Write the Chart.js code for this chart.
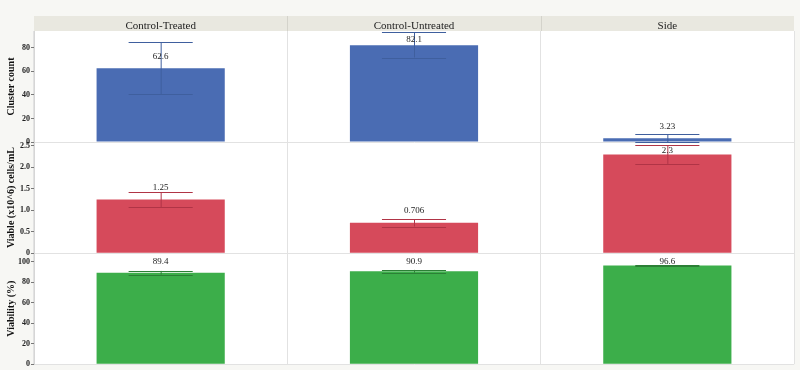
<!DOCTYPE html>
<html>
<head>
<meta charset="utf-8">
<script src="https://cdn.jsdelivr.net/npm/chart.js@4.4.1/dist/chart.umd.min.js"></script>
<style>
    html, body { margin: 0; padding: 0; background: #f7f7f4; }
    #wrap { width: 800px; height: 370px; }
</style>
</head>
<body>
<div id="wrap"><canvas id="trellisChart" width="800" height="370"></canvas></div>
<script>
const categories = ["Control-Treated", "Control-Untreated", "Side"];

const clusterCount = [62.6, 82.1, 3.23];
const clusterLow = [40.8, 71.8, 0];
const clusterHigh = [84.6, 93.3, 6.6];

const viableCells = [1.25, 0.706, 2.3];
const viableLow = [1.07, 0.62, 2.08];
const viableHigh = [1.42, 0.79, 2.52];

const viability = [89.4, 90.9, 96.6];
const viabilityLow = [87.6, 89.6, 96.3];
const viabilityHigh = [91.2, 92.2, 96.9];

const serif = "'Liberation Serif', 'Times New Roman', serif";
var chart;

// background, white plot area and the beige header strip
const panelBackground = {
    id: "panelBackground",
    beforeDraw(c) {
        var ctx = c.ctx, area = c.chartArea, x = c.scales.x;
        ctx.save();
        ctx.fillStyle = "#f7f7f4";
        ctx.fillRect(0, 0, c.width, c.height);
        ctx.fillStyle = "#ffffff";
        ctx.fillRect(area.left, area.top, area.right - area.left, area.bottom - area.top);
        ctx.fillStyle = "#e9e8e0";
        ctx.fillRect(x.left, x.top, x.right - x.left, x.bottom - x.top);
        ctx.strokeStyle = "#d4d3cb";
        ctx.lineWidth = 1;
        var step = (x.right - x.left) / categories.length;
        for (var i = 1; i < categories.length; i++) {
            var px = Math.round(x.left + step * i) + 0.5;
            ctx.beginPath();
            ctx.moveTo(px, x.top);
            ctx.lineTo(px, x.bottom);
            ctx.stroke();
        }
        ctx.restore();
    }
};

// error bars and the value labels above each bar
const errorBars = {
    id: "errorBars",
    afterDatasetsDraw(c) {
        var ctx = c.ctx;
        ctx.save();
        c.data.datasets.forEach(function(ds, di) {
            var meta = c.getDatasetMeta(di);
            var yScale = c.scales[ds.yAxisID];
            meta.data.forEach(function(bar, i) {
                var cx = bar.x;
                var half = bar.width / 4;
                var yHi = yScale.getPixelForValue(ds.errHigh[i]);
                var yLo = yScale.getPixelForValue(ds.errLow[i]);
                ctx.strokeStyle = ds.errColor;
                ctx.lineWidth = 1;
                ctx.beginPath();
                ctx.moveTo(cx + 0.5, yHi);
                ctx.lineTo(cx + 0.5, yLo);
                ctx.moveTo(cx - half, Math.round(yHi) + 0.5);
                ctx.lineTo(cx + half, Math.round(yHi) + 0.5);
                ctx.moveTo(cx - half, Math.round(yLo) + 0.5);
                ctx.lineTo(cx + half, Math.round(yLo) + 0.5);
                ctx.stroke();

                var ly = Math.max(bar.y - 12, yScale.top + 9);
                ctx.fillStyle = "#222";
                ctx.font = "9px " + serif;
                ctx.textAlign = "center";
                ctx.textBaseline = "middle";
                ctx.fillText(String(ds.data[i]), cx, ly);
            });
        });
        ctx.restore();
    }
};

function rowAxis(title, maxValue, step, decimals) {
    return {
        type: "linear",
        position: "left",
        stack: "rows",
        stackWeight: 1,
        min: 0,
        max: maxValue,
        afterFit: function(scale) { scale.width = 34; },
        border: { display: true, color: "#d6d6d6" },
        grid: {
            drawOnChartArea: true,
            color: function(ctx) { return ctx.tick && ctx.tick.value === 0 ? "#e2e2e2" : "rgba(0,0,0,0)"; },
            tickColor: "#777",
            tickLength: 3
        },
        ticks: {
            stepSize: step,
            includeBounds: false,
            autoSkip: false,
            padding: 1,
            color: "#222",
            font: { family: serif, size: 8, weight: "bold" },
            callback: function(v) { return v === 0 ? "0" : v.toFixed(decimals); }
        },
        title: {
            display: true,
            text: title,
            color: "#111",
            padding: { top: 5, bottom: 0 },
            font: { family: serif, size: 10, weight: "bold" }
        }
    };
}

function drawChart() {
    var context = document.getElementById("trellisChart").getContext("2d");
    chart = new Chart(context, {
        type: "bar",
        data: {
            labels: categories,
            datasets: [{
                label: "Viability (%)",
                data: viability,
                errLow: viabilityLow,
                errHigh: viabilityHigh,
                yAxisID: "yViability",
                backgroundColor: "#3cae4a",
                errColor: "#2c7f36"
            }, {
                label: "Viable (x10^6) cells/mL",
                data: viableCells,
                errLow: viableLow,
                errHigh: viableHigh,
                yAxisID: "yViable",
                backgroundColor: "#d64a5b",
                errColor: "#b03446"
            }, {
                label: "Cluster count",
                data: clusterCount,
                errLow: clusterLow,
                errHigh: clusterHigh,
                yAxisID: "yCluster",
                backgroundColor: "#4a6cb3",
                errColor: "#3f5f9e"
            }]
        },
        options: {
            responsive: false,
            animation: false,
            layout: { padding: { top: 16, right: 6, bottom: 5, left: 0 } },
            datasets: { bar: { grouped: false, barPercentage: 0.506, categoryPercentage: 1 } },
            plugins: {
                legend: { display: false },
                tooltip: { enabled: false }
            },
            scales: {
                x: {
                    position: "top",
                    afterFit: function(scale) { scale.height = 15; },
                    border: { display: false },
                    grid: { color: "#e2e2e2", drawTicks: false, tickLength: 0 },
                    ticks: {
                        padding: -2,
                        color: "#222",
                        font: { family: serif, size: 11 }
                    }
                },
                yViability: rowAxis("Viability (%)", 108.6, 20, 0),
                yViable: rowAxis("Viable (x10^6) cells/mL", 2.59, 0.5, 1),
                yCluster: rowAxis("Cluster count", 94.3, 20, 0)
            }
        },
        plugins: [panelBackground, errorBars]
    });
}

window.onload = function() {
    drawChart();
};
</script>
</body>
</html>
